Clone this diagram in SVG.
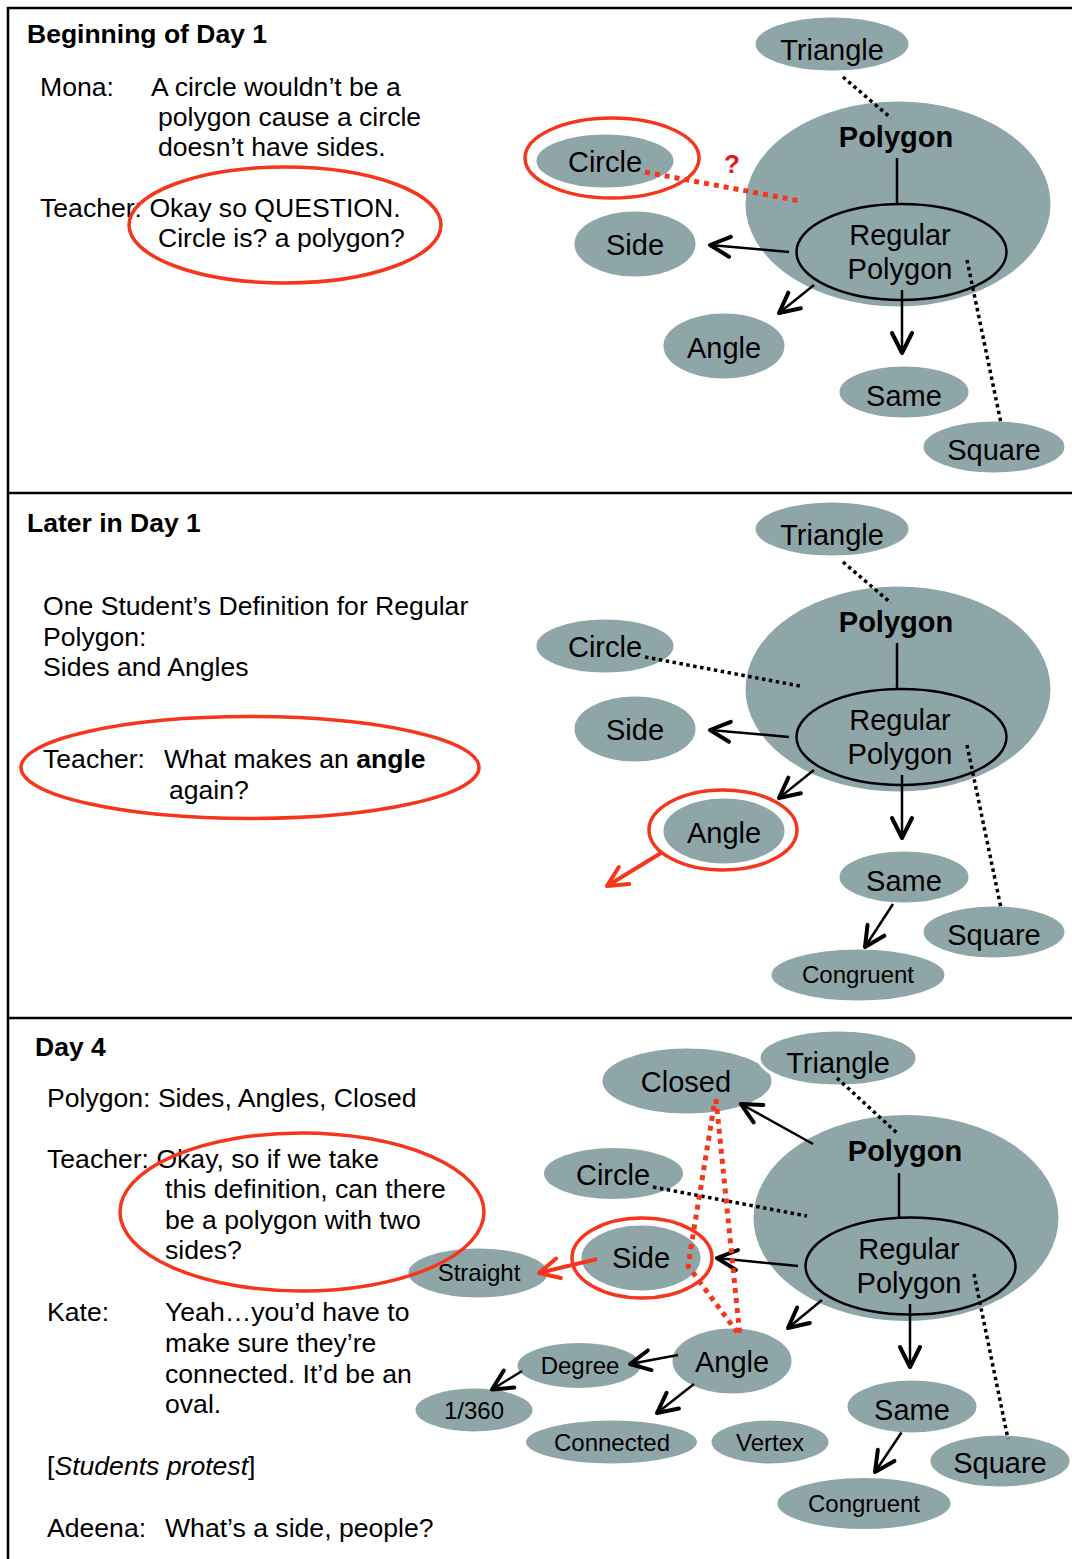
<svg xmlns="http://www.w3.org/2000/svg" width="1072" height="1559" viewBox="0 0 1072 1559">
  <style>
    .node { fill: #8fa6a9; stroke: #ffffff; stroke-width: 3; }
    .inner { fill: #8fa6a9; stroke: #000000; stroke-width: 2.5; }
    .lbl { font-family: "Liberation Sans", Arial, sans-serif; font-size: 29px; text-anchor: middle; fill: #000; }
    .sm { font-size: 24px; }
    .bold { font-weight: bold; }
    .body { font-family: "Liberation Sans", Arial, sans-serif; font-size: 26.6px; fill: #000; }
    .title { font-family: "Liberation Sans", Arial, sans-serif; font-size: 26.5px; font-weight: bold; fill: #000; }
    .arrow { stroke: #000; stroke-width: 2.5; fill: none; marker-end: url(#ah); }
    .solid { stroke: #000; stroke-width: 2.5; fill: none; }
    .dot { stroke: #000; stroke-width: 3.5; stroke-dasharray: 3.5 3.5; fill: none; }
    .reddot { stroke: #f5361c; stroke-width: 5; stroke-dasharray: 5 5; fill: none; }
    .redarrow { stroke: #f5361c; stroke-width: 4; fill: none; marker-end: url(#ahr); }
    .ring { fill: none; stroke: #f5361c; stroke-width: 3.5; }
    .frame { stroke: #000; stroke-width: 2.5; fill: none; }
  </style>
  <defs>
    <marker id="ah" viewBox="-24 -14 28 28" refX="0" refY="0" markerWidth="28" markerHeight="28" markerUnits="userSpaceOnUse" orient="auto">
      <path d="M-20,-10 L0,0 L-20,10" fill="none" stroke="#000" stroke-width="4" stroke-linecap="round" stroke-linejoin="round"/>
    </marker>
    <marker id="ahr" viewBox="-24 -14 28 28" refX="0" refY="0" markerWidth="28" markerHeight="28" markerUnits="userSpaceOnUse" orient="auto">
      <path d="M-20,-10 L0,0 L-20,10" fill="none" stroke="#f5361c" stroke-width="4" stroke-linecap="round" stroke-linejoin="round"/>
    </marker>
  </defs>

  <rect x="0" y="0" width="1072" height="1559" fill="#ffffff"/>

  <!-- panel frame -->
  <g id="frame">
    <path class="frame" d="M8,1559 V8 H1072 M8,493 H1072 M8,1018 H1072"/>
  </g>

  <!-- ===== Panel 1: Beginning of Day 1 ===== -->
  <g id="p1-text">
    <text class="title" x="27" y="43">Beginning of Day 1</text>
    <text class="body" x="40" y="96">Mona:</text>
    <text class="body" x="151" y="96">A circle wouldn’t be a</text>
    <text class="body" x="158" y="126">polygon cause a circle</text>
    <text class="body" x="158" y="156">doesn’t have sides.</text>
    <text class="body" x="40" y="217">Teacher: Okay so QUESTION.</text>
    <text class="body" x="158" y="247">Circle is? a polygon?</text>
  </g>
  <g id="p1-triangle"><ellipse class="node" cx="832" cy="44" rx="78" ry="28"/><text class="lbl" x="832" y="60">Triangle</text></g>
  <g id="p1-polygon"><ellipse class="node" cx="898" cy="204" rx="154" ry="104"/><text class="lbl bold" x="896" y="147">Polygon</text></g>
  <g id="p1-regular"><ellipse class="inner" cx="901.5" cy="252" rx="105" ry="48"/><text class="lbl" x="900" y="245">Regular</text><text class="lbl" x="900" y="279">Polygon</text></g>
  <g id="p1-circle"><ellipse class="node" cx="605" cy="161" rx="70" ry="28"/><text class="lbl" x="605" y="172">Circle</text></g>
  <g id="p1-side"><ellipse class="node" cx="635" cy="244" rx="62" ry="34"/><text class="lbl" x="635" y="255">Side</text></g>
  <g id="p1-angle"><ellipse class="node" cx="724" cy="346" rx="62" ry="34"/><text class="lbl" x="724" y="358">Angle</text></g>
  <g id="p1-same"><ellipse class="node" cx="904" cy="392" rx="66" ry="27"/><text class="lbl" x="904" y="406">Same</text></g>
  <g id="p1-square"><ellipse class="node" cx="994" cy="447" rx="72" ry="27"/><text class="lbl" x="994" y="460">Square</text></g>
  <g id="p1-connectors">
    <line class="dot" x1="843" y1="77" x2="891" y2="118"/>
    <line class="solid" x1="897" y1="158" x2="897" y2="205"/>
    <line class="arrow" x1="789" y1="252" x2="710" y2="245"/>
    <line class="arrow" x1="814" y1="285" x2="779" y2="313"/>
    <line class="arrow" x1="902" y1="290" x2="902" y2="353"/>
    <line class="dot" x1="967" y1="260" x2="1001" y2="423"/>
    <line class="reddot" x1="645" y1="172" x2="800" y2="201" stroke-width="4" stroke-dasharray="4 4"/>
  </g>
  <g id="p1-marks">
    <ellipse class="ring" cx="612" cy="158" rx="87" ry="40"/>
    <text x="732" y="173" font-family="Liberation Sans, Arial, sans-serif" font-size="26" font-weight="bold" fill="#e8141b" text-anchor="middle">?</text>
    <ellipse class="ring" cx="285" cy="225" rx="156" ry="58"/>
  </g>

  <!-- ===== Panel 2: Later in Day 1 ===== -->
  <g id="p2-text">
    <text class="title" x="27" y="532">Later in Day 1</text>
    <text class="body" x="43" y="615">One Student’s Definition for Regular</text>
    <text class="body" x="43" y="646">Polygon:</text>
    <text class="body" x="43" y="676">Sides and Angles</text>
    <text class="body" x="43" y="768">Teacher:<tspan x="164">What makes an </tspan><tspan font-weight="bold">angle</tspan></text>
    <text class="body" x="169" y="799">again?</text>
  </g>
  <g id="p2-triangle"><ellipse class="node" cx="832" cy="529" rx="78" ry="28"/><text class="lbl" x="832" y="545">Triangle</text></g>
  <g id="p2-polygon"><ellipse class="node" cx="898" cy="689" rx="154" ry="104"/><text class="lbl bold" x="896" y="632">Polygon</text></g>
  <g id="p2-regular"><ellipse class="inner" cx="901.5" cy="737" rx="105" ry="48"/><text class="lbl" x="900" y="730">Regular</text><text class="lbl" x="900" y="764">Polygon</text></g>
  <g id="p2-circle"><ellipse class="node" cx="605" cy="646" rx="70" ry="28"/><text class="lbl" x="605" y="657">Circle</text></g>
  <g id="p2-side"><ellipse class="node" cx="635" cy="729" rx="62" ry="34"/><text class="lbl" x="635" y="740">Side</text></g>
  <g id="p2-angle"><ellipse class="node" cx="724" cy="831" rx="62" ry="34"/><text class="lbl" x="724" y="843">Angle</text></g>
  <g id="p2-same"><ellipse class="node" cx="904" cy="877" rx="66" ry="27"/><text class="lbl" x="904" y="891">Same</text></g>
  <g id="p2-square"><ellipse class="node" cx="994" cy="932" rx="72" ry="27"/><text class="lbl" x="994" y="945">Square</text></g>
  <g id="p2-congruent"><ellipse class="node" cx="858" cy="975" rx="88" ry="27"/><text class="lbl sm" x="858" y="983">Congruent</text></g>
  <g id="p2-connectors">
    <line class="dot" x1="843" y1="562" x2="891" y2="603"/>
    <line class="solid" x1="897" y1="643" x2="897" y2="690"/>
    <line class="dot" x1="645" y1="657" x2="800" y2="686"/>
    <line class="arrow" x1="789" y1="737" x2="710" y2="730"/>
    <line class="arrow" x1="814" y1="770" x2="779" y2="798"/>
    <line class="arrow" x1="902" y1="775" x2="902" y2="838"/>
    <line class="dot" x1="967" y1="745" x2="1001" y2="908"/>
    <line class="arrow" x1="893" y1="904" x2="865" y2="947"/>
    <line class="redarrow" x1="661" y1="853" x2="607" y2="886"/>
  </g>
  <g id="p2-marks">
    <ellipse class="ring" cx="723" cy="830" rx="74" ry="40"/>
    <ellipse class="ring" cx="250" cy="767.5" rx="229" ry="51"/>
  </g>

  <!-- ===== Panel 3: Day 4 ===== -->
  <g id="p3-text">
    <text class="title" x="35" y="1056">Day 4</text>
    <text class="body" x="47" y="1107">Polygon: Sides, Angles, Closed</text>
    <text class="body" x="47" y="1168">Teacher: Okay, so if we take</text>
    <text class="body" x="165" y="1198">this definition, can there</text>
    <text class="body" x="165" y="1229">be a polygon with two</text>
    <text class="body" x="165" y="1259">sides?</text>
    <text class="body" x="47" y="1321">Kate:</text>
    <text class="body" x="165" y="1321">Yeah…you’d have to</text>
    <text class="body" x="165" y="1352">make sure they’re</text>
    <text class="body" x="165" y="1383">connected. It’d be an</text>
    <text class="body" x="165" y="1413">oval.</text>
    <text class="body" x="47" y="1475">[<tspan font-style="italic">Students protest</tspan>]</text>
    <text class="body" x="47" y="1537">Adeena:<tspan x="165">What’s a side, people?</tspan></text>
  </g>
  <g id="p3-closed"><ellipse class="node" cx="687" cy="1081" rx="86" ry="34"/><text class="lbl" x="686" y="1092">Closed</text></g>
  <g id="p3-triangle"><ellipse class="node" cx="838" cy="1058" rx="79" ry="28"/><text class="lbl" x="838" y="1073">Triangle</text></g>
  <g id="p3-polygon"><ellipse class="node" cx="906" cy="1218" rx="154" ry="104.5"/><text class="lbl bold" x="905" y="1161">Polygon</text></g>
  <g id="p3-regular"><ellipse class="inner" cx="910.5" cy="1266" rx="105" ry="48.5"/><text class="lbl" x="909" y="1259">Regular</text><text class="lbl" x="909" y="1293">Polygon</text></g>
  <g id="p3-circle"><ellipse class="node" cx="613.5" cy="1173.5" rx="71" ry="27"/><text class="lbl" x="613" y="1185">Circle</text></g>
  <g id="p3-side"><ellipse class="node" cx="641" cy="1258" rx="61" ry="34"/><text class="lbl" x="641" y="1268">Side</text></g>
  <g id="p3-straight"><ellipse class="node" cx="478" cy="1273" rx="71" ry="26"/><text class="lbl sm" x="479" y="1281">Straight</text></g>
  <g id="p3-angle"><ellipse class="node" cx="732" cy="1361" rx="61" ry="34"/><text class="lbl" x="732" y="1372">Angle</text></g>
  <g id="p3-degree"><ellipse class="node" cx="579" cy="1365.5" rx="63" ry="24"/><text class="lbl sm" x="580" y="1374">Degree</text></g>
  <g id="p3-fraction"><ellipse class="node" cx="474" cy="1410" rx="60" ry="23"/><text class="lbl sm" x="474" y="1419">1/360</text></g>
  <g id="p3-connected"><ellipse class="node" cx="611.5" cy="1442" rx="87" ry="23"/><text class="lbl sm" x="612" y="1451">Connected</text></g>
  <g id="p3-vertex"><ellipse class="node" cx="770" cy="1442" rx="60" ry="23"/><text class="lbl sm" x="770" y="1451">Vertex</text></g>
  <g id="p3-same"><ellipse class="node" cx="912" cy="1406.5" rx="66" ry="27.5"/><text class="lbl" x="912" y="1420">Same</text></g>
  <g id="p3-square"><ellipse class="node" cx="1000" cy="1461" rx="71" ry="27"/><text class="lbl" x="1000" y="1473">Square</text></g>
  <g id="p3-congruent"><ellipse class="node" cx="864" cy="1503.5" rx="88" ry="27"/><text class="lbl sm" x="864" y="1512">Congruent</text></g>
  <g id="p3-connectors">
    <line class="dot" x1="837" y1="1078" x2="897" y2="1133"/>
    <line class="solid" x1="899" y1="1173" x2="899" y2="1219"/>
    <line class="arrow" x1="813" y1="1144" x2="741" y2="1104"/>
    <line class="dot" x1="653" y1="1187" x2="807" y2="1216"/>
    <line class="arrow" x1="798" y1="1266" x2="717" y2="1258"/>
    <line class="arrow" x1="822" y1="1300" x2="788" y2="1328"/>
    <line class="arrow" x1="910" y1="1304" x2="910" y2="1367"/>
    <line class="dot" x1="974" y1="1274" x2="1008" y2="1439"/>
    <line class="arrow" x1="901.5" y1="1432.5" x2="875" y2="1472"/>
    <line class="arrow" x1="678" y1="1355" x2="630" y2="1364"/>
    <line class="arrow" x1="522" y1="1371" x2="492" y2="1389.5"/>
    <line class="arrow" x1="694" y1="1384" x2="657" y2="1413"/>
  </g>
  <g id="p3-marks">
    <ellipse class="ring" cx="302" cy="1212" rx="182" ry="79"/>
    <ellipse class="ring" cx="642" cy="1258" rx="70" ry="40"/>
    <line class="redarrow" x1="597" y1="1259" x2="539" y2="1273"/>
    <polyline class="reddot" points="714,1106 688,1266 737,1332"/>
    <line class="reddot" x1="716" y1="1099" x2="740" y2="1337"/>
  </g>
</svg>
